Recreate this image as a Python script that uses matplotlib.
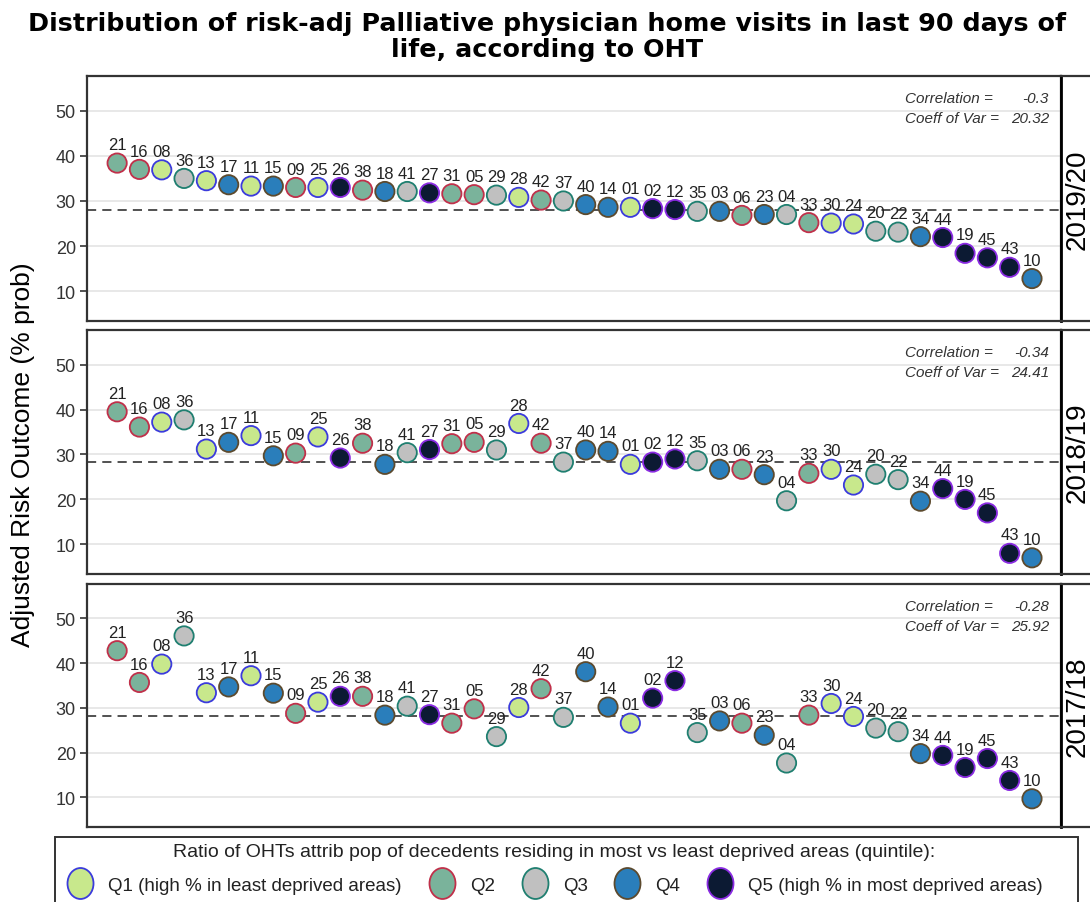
import matplotlib
matplotlib.use("Agg")
import matplotlib.pyplot as plt
from matplotlib.lines import Line2D
from matplotlib.path import Path
from matplotlib.patches import Rectangle
from matplotlib.transforms import Affine2D

plt.rcParams["font.family"] = ["Liberation Sans", "DejaVu Sans"]

# OHT codes, in the order they are shown on the x axis
ohts = ["21", "16", "08", "36", "13", "17", "11", "15", "09", "25", "26", "38", "18", "41",
        "27", "31", "05", "29", "28", "42", "37", "40", "14", "01", "02", "12", "35", "03",
        "06", "23", "04", "33", "30", "24", "20", "22", "34", "44", "19", "45", "43", "10"]

# deprivation quintile of each OHT (1..5)
quintile = [2, 2, 1, 3, 1, 4, 1, 4, 2, 1, 5, 2, 4, 3,
            5, 2, 2, 3, 1, 2, 3, 4, 4, 1, 5, 5, 3, 4,
            2, 4, 3, 2, 1, 1, 3, 3, 4, 5, 5, 5, 5, 4]

years = ["2019/20", "2018/19", "2017/18"]

vals_1920 = [38.4, 37.0, 36.9, 35.0, 34.5, 33.6, 33.3, 33.3, 33.0, 33.0, 33.0, 32.4, 32.1, 32.1,
             31.8, 31.6, 31.4, 31.3, 30.8, 30.2, 30.0, 29.2, 28.6, 28.6, 28.3, 28.1, 27.7, 27.7,
             26.8, 27.0, 27.0, 25.2, 25.1, 24.9, 23.3, 23.1, 22.1, 21.9, 18.4, 17.4, 15.3, 12.8]

vals_1819 = [39.5, 36.1, 37.2, 37.7, 31.2, 32.7, 34.2, 29.7, 30.3, 33.9, 29.2, 32.5, 27.8, 30.4,
             31.1, 32.4, 32.7, 31.0, 36.9, 32.5, 28.3, 31.0, 30.7, 27.8, 28.3, 29.0, 28.6, 26.7,
             26.7, 25.5, 19.7, 25.8, 26.7, 23.2, 25.6, 24.4, 19.6, 22.4, 20.0, 17.0, 8.0, 7.0]

vals_1718 = [42.8, 35.7, 39.8, 46.1, 33.4, 34.7, 37.2, 33.3, 28.8, 31.3, 32.6, 32.6, 28.4, 30.4,
             28.5, 26.6, 29.8, 23.6, 30.1, 34.3, 27.9, 38.1, 30.2, 26.6, 32.2, 36.1, 24.5, 27.1,
             26.6, 23.9, 17.7, 28.4, 31.0, 28.1, 25.5, 24.7, 19.8, 19.4, 16.7, 18.7, 13.8, 9.7]

ref_line = [28.0, 28.4, 28.3]
correlation = ["-0.3", "-0.34", "-0.28"]
coeff_var = ["20.32", "24.41", "25.92"]

legend_title = "Ratio of OHTs attrib pop of decedents residing in most vs least deprived areas (quintile):"
legend_labels = ["Q1 (high % in least deprived areas)", "Q2", "Q3", "Q4",
                 "Q5 (high % in most deprived areas)"]

fills = {1: "#c8e88c", 2: "#7ab39b", 3: "#c0c0c0", 4: "#2a7ebb", 5: "#0c1a33"}
edges = {1: "#3b3bdc", 2: "#c0304a", 3: "#1f7f70", 4: "#5c4a2e", 5: "#8a2be2"}

all_vals = [vals_1920, vals_1819, vals_1718]

W, H = 1090, 903
fig = plt.figure(figsize=(W / 100, H / 100), dpi=100)

panel_px = [(77, 322), (331, 575), (585, 828)]
left, right = 87, 1061
x = list(range(len(ohts)))
frame_col = "#333333"
txt_col = "#333333"

for i, (top, bot) in enumerate(panel_px):
    ax = fig.add_axes([left / W, 1 - bot / H, (right - left) / W, (bot - top) / H])
    vals = all_vals[i]
    ax.set_xlim(-1.35, len(ohts) - 1 + 1.3)
    ax.set_ylim(3.4, 57.7)
    ax.set_yticks([10, 20, 30, 40, 50])
    ax.set_xticks([])
    ax.grid(axis="y", color="#e4e4e4", linewidth=1.2)
    ax.set_axisbelow(True)
    ax.tick_params(axis="y", length=5, width=1.2, color=frame_col, labelsize=13,
                   labelcolor=txt_col, pad=3)
    for sp in ax.spines.values():
        sp.set_color(frame_col)
        sp.set_linewidth(1.6)
    ax.axhline(ref_line[i], color="#222222", linestyle=(0, (6, 4)), linewidth=1.1, zorder=1)
    ax.scatter(x, vals, s=193, c=[fills[q] for q in quintile],
               edgecolors=[edges[q] for q in quintile], linewidths=1.3, zorder=3)
    for xi, v, lab in zip(x, vals, ohts):
        ax.annotate(lab, (xi, v), xytext=(0, 10), textcoords="offset points",
                    ha="center", va="baseline", fontsize=12, color="#222222", zorder=4)

    y1 = 1 - (top + 22) / H
    y2 = 1 - (top + 42) / H
    fig.text(905 / W, y1, "Correlation =", fontsize=11, style="italic", color=txt_col,
             ha="left", va="center")
    fig.text(1049 / W, y1, correlation[i], fontsize=11, style="italic", color=txt_col,
             ha="right", va="center")
    fig.text(905 / W, y2, "Coeff of Var =", fontsize=11, style="italic", color=txt_col,
             ha="left", va="center")
    fig.text(1049 / W, y2, coeff_var[i], fontsize=11, style="italic", color=txt_col,
             ha="right", va="center")

    # strip on the right with the year
    sax = fig.add_axes([right / W, 1 - bot / H, 40 / W, (bot - top) / H])
    sax.set_xticks([])
    sax.set_yticks([])
    for sp in sax.spines.values():
        sp.set_color(frame_col)
        sp.set_linewidth(1.6)
    sax.spines["left"].set_color("black")
    sax.spines["left"].set_linewidth(2)
    sax.text(17 / 40, 0.5, years[i], rotation=90, ha="center", va="center",
             fontsize=20, color="black", transform=sax.transAxes)

fig.text(547 / W, 1 - 37 / H,
         "Distribution of risk-adj Palliative physician home visits in last 90 days of\nlife, according to OHT",
         ha="center", va="center", fontsize=18.3, fontweight="bold", linespacing=1.15,
         family="DejaVu Sans")
fig.text(23 / W, 1 - 455 / H, "Adjusted Risk Outcome (% prob)", rotation=90,
         ha="center", va="center", fontsize=19)

# legend
fig.patches.append(Rectangle((55 / W, -0.01), 1023 / W, 1 - 838 / H + 0.01,
                             transform=fig.transFigure, fill=False,
                             edgecolor=frame_col, linewidth=1.4))
fig.text(554 / W, 1 - 853 / H, legend_title, ha="center", va="center",
         fontsize=14, color="#222222")
ell = Path.unit_circle().transformed(Affine2D().scale(0.84, 1.0))
handles = [Line2D([], [], linestyle="none", marker=ell, markersize=22.3,
                  markerfacecolor=fills[q], markeredgecolor=edges[q], markeredgewidth=1.3)
           for q in range(1, 6)]
leg = fig.legend(handles, legend_labels, loc="center",
                 bbox_to_anchor=(555 / W, 1 - 886 / H), ncol=5, fontsize=13.5,
                 frameon=False, handletextpad=0.8, handlelength=1.4,
                 columnspacing=1.42, borderpad=0.0)
for t in leg.get_texts():
    t.set_color("#222222")

fig.savefig("out.png", dpi=100)
